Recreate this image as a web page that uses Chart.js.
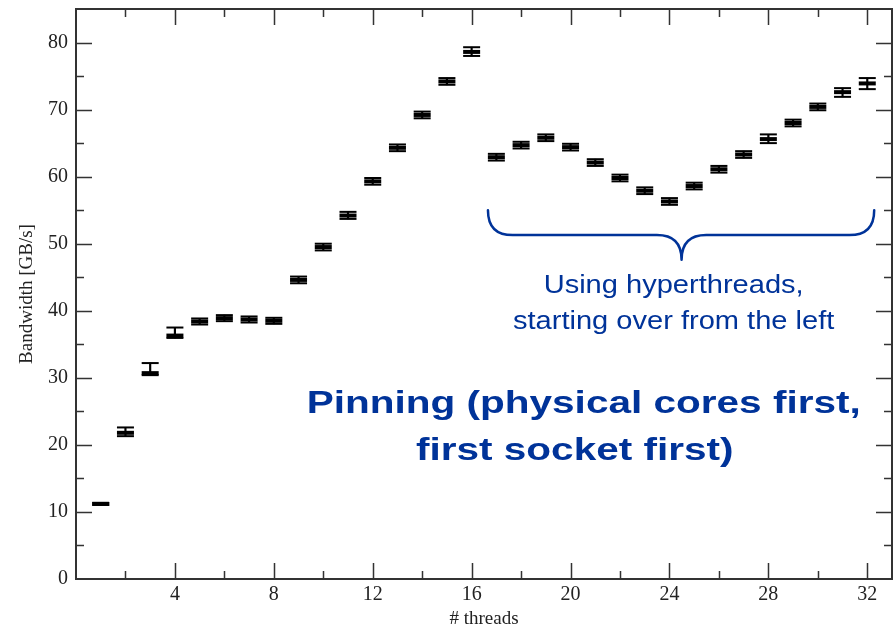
<!DOCTYPE html>
<html><head><meta charset="utf-8">
<script src="https://cdn.jsdelivr.net/npm/chart.js@4/dist/chart.umd.min.js"></script>
<style>html,body{margin:0;padding:0;background:#fff}#wrap{width:894px;height:630px}</style>
</head><body><div id="wrap"><canvas id="c" width="894" height="630"></canvas></div>
<script>
const threads = [1,2,3,4,5,6,7,8,9,10,11,12,13,14,15,16,17,18,19,20,21,22,23,24,25,26,27,28,29,30,31,32];
const bandwidth = [11.2,21.8,30.7,36.3,38.4,38.9,38.7,38.5,44.6,49.5,54.2,59.3,64.3,69.2,74.2,78.6,62.9,64.7,65.8,64.4,62.1,59.8,57.9,56.3,58.6,61.1,63.3,65.6,68.0,70.4,72.6,73.9];
const errLow  = [0.15,0.5,0.3,0.35,0.45,0.45,0.45,0.45,0.5,0.5,0.5,0.5,0.5,0.5,0.5,0.6,0.5,0.5,0.5,0.5,0.5,0.5,0.5,0.5,0.5,0.5,0.5,0.6,0.5,0.5,0.7,0.85];
const errHigh = [0.15,0.8,1.5,1.2,0.45,0.45,0.45,0.45,0.5,0.5,0.55,0.5,0.5,0.5,0.5,0.7,0.5,0.5,0.5,0.5,0.5,0.5,0.5,0.5,0.5,0.5,0.5,0.7,0.5,0.5,0.6,0.8];
const yTickLabels = [0,10,20,30,40,50,60,70,80];
const xTickLabels = [4,8,12,16,20,24,28,32];
const braceText = ["Using hyperthreads,", "starting over from the left"];
const pinText = ["Pinning (physical cores first,", "first socket first)"];

const BLUE = '#003399';
const SERIF = '"Liberation Serif", "Times New Roman", serif';
const SANS = '"Liberation Sans", Arial, sans-serif';

const framePlugin = {
  id: 'frameTicks',
  afterDraw(chart) {
    const {ctx, chartArea: a, scales: {x, y}} = chart;
    ctx.save();
    ctx.strokeStyle = '#333';
    ctx.lineWidth = 1.5;
    ctx.beginPath();
    for (let v = 5; v < 85; v += 5) {
      const py = Math.round(y.getPixelForValue(v)) + 0.5;
      const len = v % 10 === 0 ? 16 : 8;
      ctx.moveTo(a.left, py); ctx.lineTo(a.left + len, py);
      ctx.moveTo(a.right, py); ctx.lineTo(a.right - len, py);
    }
    for (let v = 2; v <= 32; v += 2) {
      const px = Math.round(x.getPixelForValue(v)) + 0.5;
      const len = v % 4 === 0 ? 16 : 8;
      ctx.moveTo(px, a.bottom); ctx.lineTo(px, a.bottom - len);
      ctx.moveTo(px, a.top); ctx.lineTo(px, a.top + len);
    }
    ctx.stroke();
    ctx.lineWidth = 2;
    ctx.strokeRect(a.left, a.top, a.right - a.left, a.bottom - a.top);
    ctx.restore();
  }
};

const notePlugin = {
  id: 'notes',
  afterDraw(chart) {
    const {ctx, scales: {x, y}} = chart;
    const X = v => x.getPixelForValue(v), Y = v => y.getPixelForValue(v);
    ctx.save();
    const xL = X(16.66), xM = X(24.49), xR = X(32.28), r = X(17.66) - X(16.66);
    const yT = Y(55.0), yM = Y(51.28), yTip = Y(47.6);
    ctx.strokeStyle = BLUE; ctx.lineWidth = 2.5; ctx.lineCap = 'round'; ctx.lineJoin = 'round';
    ctx.beginPath();
    ctx.moveTo(xL, yT);
    ctx.quadraticCurveTo(xL, yM, xL + r, yM);
    ctx.lineTo(xM - r, yM);
    ctx.quadraticCurveTo(xM, yM, xM, yTip);
    ctx.quadraticCurveTo(xM, yM, xM + r, yM);
    ctx.lineTo(xR - r, yM);
    ctx.quadraticCurveTo(xR, yM, xR, yT);
    ctx.stroke();
    ctx.fillStyle = BLUE;
    ctx.font = '25px ' + SANS;
    ctx.textBaseline = 'alphabetic';
    ctx.textAlign = 'center';
    let sx = 260 / ctx.measureText(braceText[0]).width;
    const cx = X(24.17);
    [[braceText[0], Y(42.6)], [braceText[1], Y(37.3)]].forEach(([t, by]) => {
      ctx.save(); ctx.translate(cx, by); ctx.scale(sx, 1); ctx.fillText(t, 0, 0); ctx.restore();
    });
    ctx.font = 'bold 32px ' + SANS;
    ctx.textAlign = 'left';
    sx = 554 / ctx.measureText(pinText[0]).width;
    [[pinText[0], X(9.33), Y(24.75)], [pinText[1], X(13.75), Y(17.74)]].forEach(([t, lx, by]) => {
      ctx.save(); ctx.translate(lx, by); ctx.scale(sx, 1); ctx.fillText(t, 0, 0); ctx.restore();
    });
    ctx.restore();
  }
};

const capStyle = {
  type: 'scatter', pointStyle: 'line', pointRadius: 8.5, pointHoverRadius: 8.5,
  pointBorderColor: '#000', pointBackgroundColor: '#000', showLine: false
};

const zeroPad = s => { s.paddingTop = 0; s.paddingBottom = 0; s.paddingLeft = 0; s.paddingRight = 0; };

new Chart(document.getElementById('c'), {
  type: 'scatter',
  data: {
    datasets: [
      { type: 'bar', data: threads.map((t, i) => ({x: t, y: [bandwidth[i] - errLow[i], bandwidth[i] + errHigh[i]]})),
        backgroundColor: '#000', borderWidth: 0, barThickness: 1.5, order: 3 },
      Object.assign({ data: threads.map((t, i) => ({x: t, y: bandwidth[i] + errHigh[i]})), pointBorderWidth: 2, order: 2 }, capStyle),
      Object.assign({ data: threads.map((t, i) => ({x: t, y: bandwidth[i] - errLow[i]})), pointBorderWidth: 2, order: 2 }, capStyle),
      Object.assign({ data: threads.map((t, i) => ({x: t, y: bandwidth[i]})), pointBorderWidth: 4, order: 1 }, capStyle)
    ]
  },
  options: {
    responsive: false, animation: false, devicePixelRatio: 1,
    layout: { autoPadding: false, padding: { top: 9, right: 2, left: 0, bottom: 0 } },
    plugins: { legend: { display: false }, tooltip: { enabled: false } },
    scales: {
      x: {
        type: 'linear', min: 0, max: 33, offset: false,
        grid: { display: false, drawTicks: false }, border: { display: false },
        afterBuildTicks: s => { s.ticks = xTickLabels.map(v => ({value: v})); },
        afterFit: s => { s.height = 51; zeroPad(s); },
        ticks: { padding: 4, color: '#222', font: { family: SERIF, size: 20 }, maxRotation: 0, autoSkip: false },
        title: { display: true, text: '# threads', color: '#222', font: { family: SERIF, size: 19 }, padding: { top: 0, bottom: 0 } }
      },
      y: {
        type: 'linear', min: 0, max: 85,
        grid: { display: false, drawTicks: false }, border: { display: false },
        afterBuildTicks: s => { s.ticks = yTickLabels.map(v => ({value: v})); },
        afterFit: s => { s.width = 76; zeroPad(s); },
        ticks: { padding: 8, color: '#222', font: { family: SERIF, size: 20 }, autoSkip: false },
        title: { display: true, text: 'Bandwidth [GB/s]', color: '#222', font: { family: SERIF, size: 19 }, padding: { top: 16, bottom: 0 } }
      }
    }
  },
  plugins: [framePlugin, notePlugin]
});
</script>
</body></html>
